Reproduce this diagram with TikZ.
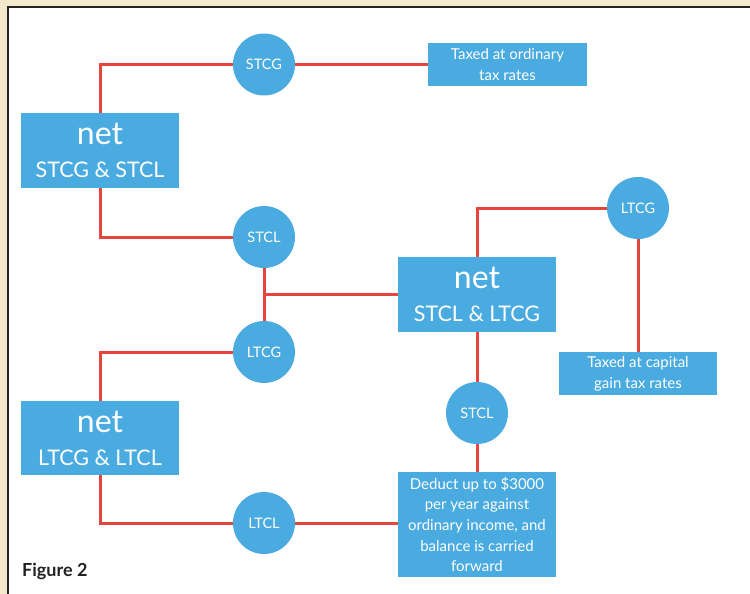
\documentclass[tikz,border=0pt]{standalone}
\usepackage{fontspec}
\setmainfont{Lato}
\usetikzlibrary{backgrounds}
\definecolor{boxblue}{HTML}{4AABE0}
\definecolor{linered}{HTML}{E4453D}
\definecolor{cream}{HTML}{F2E8CB}
\definecolor{framedark}{HTML}{222222}
\tikzset{
  bluebox/.style={fill=boxblue, text=white, inner sep=0pt, align=center, minimum width=158pt},
  bigbox/.style={bluebox, minimum height=75pt},
  textbox/.style={bluebox, font=\fontsize{15}{21}\selectfont},
  bluecirc/.style={circle, fill=boxblue, text=white, minimum size=62pt, inner sep=0pt, font=\fontsize{14.5}{16}\selectfont},
  conn/.style={draw=linered, line width=3pt}
}
\newcommand{\netlabel}[1]{{\fontsize{32}{32}\selectfont net}\\[16pt]{\fontsize{21.5}{22}\selectfont #1}}
\begin{document}
\begin{tikzpicture}[x=1pt,y=-1pt]
\useasboundingbox (0,0) rectangle (750,594);
% nodes
\node[bigbox] (n1) at (100,150.5) {\netlabel{STCG \& STCL}};
\node[bigbox] (n2) at (477,294.5) {\netlabel{STCL \& LTCG}};
\node[bigbox, minimum height=74pt] (n3) at (100,438) {\netlabel{LTCG \& LTCL}};
\node[textbox, minimum width=159pt, minimum height=43pt] (t1) at (507.5,64.5) {Taxed at ordinary\\tax rates};
\node[textbox, minimum height=43pt] (t2) at (638,373.5) {Taxed at capital\\gain tax rates};
\node[textbox, minimum height=105pt, font=\fontsize{15}{20.7}\selectfont] (dd) at (477,524.5) {Deduct up to \$3000\\per year against\\ordinary income, and\\balance is carried\\forward};
\node[bluecirc] (stcg) at (264,64.5) {STCG};
\node[bluecirc] (stcla) at (264,237) {STCL};
\node[bluecirc] (ltcga) at (638,208) {LTCG};
\node[bluecirc] (ltcgb) at (264,352) {LTCG};
\node[bluecirc] (stclb) at (477,413) {STCL};
\node[bluecirc] (ltcl) at (264,523) {LTCL};
\node[anchor=west, text=framedark, inner sep=0pt, font=\fontsize{18}{20}\selectfont\bfseries] (fig) at (22,571) {Figure 2};
% background and connectors
\begin{scope}[on background layer]
\fill[cream] (0,0) rectangle (750,594);
\draw[fill=white, draw=framedark, line width=2.5pt] (8,7) rectangle (760,604);
\draw[conn] (n1.north) |- (stcg);
\draw[conn] (stcg) -- (t1);
\draw[conn] (n1.south) |- (stcla);
\draw[conn] (stcla) -- (ltcgb);
\draw[conn] (stcla |- n2) -- (n2);
\draw[conn] (n2.north) |- (ltcga);
\draw[conn] (ltcga) -- (t2);
\draw[conn] (n2) -- (stclb);
\draw[conn] (stclb) -- (dd);
\draw[conn] (ltcgb) -| (n3.north);
\draw[conn] (n3.south) |- (ltcl);
\draw[conn] (ltcl) -- (ltcl -| dd.west);
\end{scope}
\end{tikzpicture}
\end{document}
